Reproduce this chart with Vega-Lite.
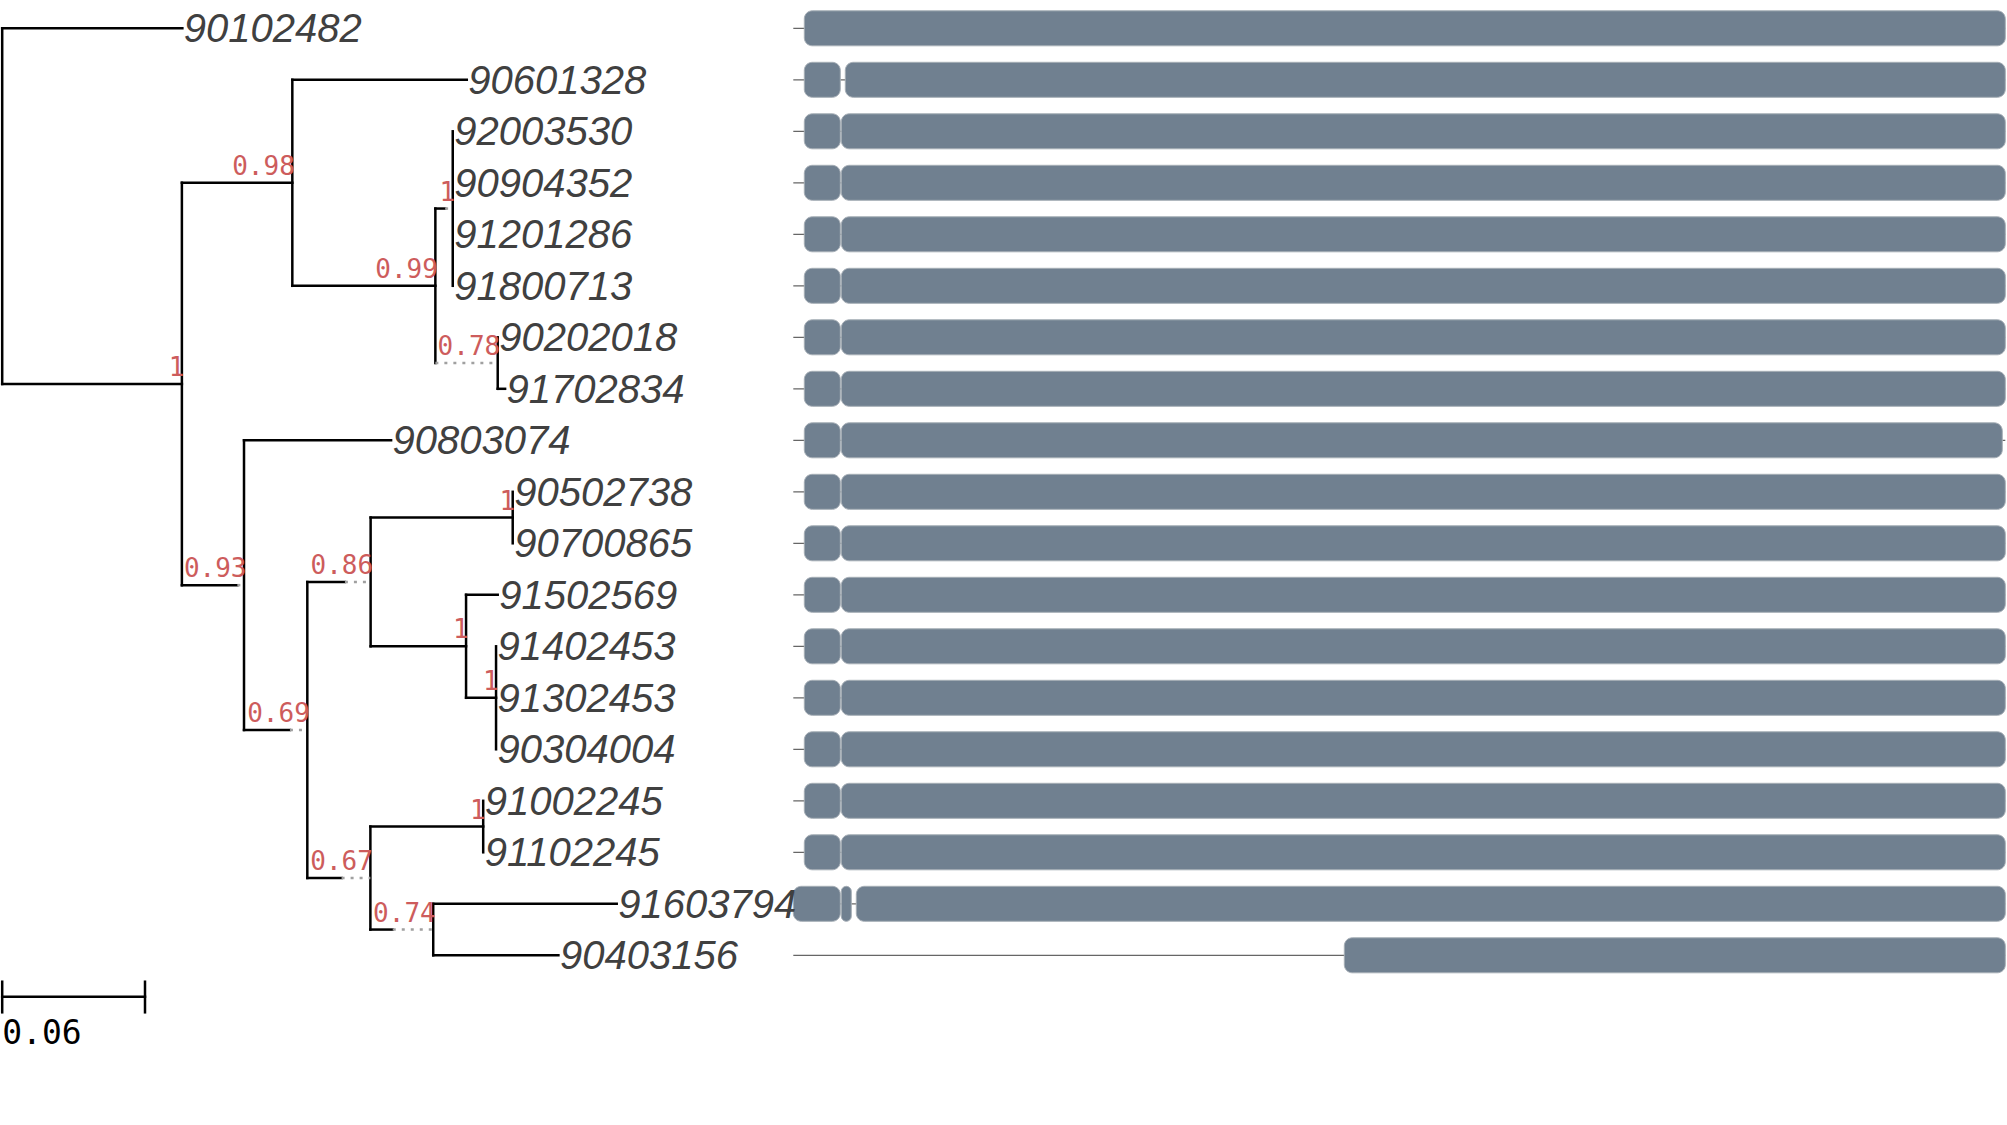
{
  "$schema": "https://vega.github.io/schema/vega-lite/v6.json",
  "width": 2007,
  "height": 1125,
  "autosize": {"type": "none"},
  "padding": 0,
  "background": "white",
  "config": {"view": {"stroke": null}, "scale": {"continuousPadding": 0}},
  "datasets": {
    "seg": [
      {"x": 0, "x2": 0, "y": 1, "y2": 7.90625, "k": "s"},
      {"x": 0, "x2": 0.0757, "y": 1, "y2": 1, "k": "s"},
      {"x": 0, "x2": 0.0755, "y": 7.90625, "y2": 7.90625, "k": "s"},
      {"x": 0.0755, "x2": 0.0755, "y": 4, "y2": 11.8125, "k": "s"},
      {"x": 0.0755, "x2": 0.1219, "y": 4, "y2": 4, "k": "s"},
      {"x": 0.1219, "x2": 0.1219, "y": 2, "y2": 6, "k": "s"},
      {"x": 0.1219, "x2": 0.1952, "y": 2, "y2": 2, "k": "s"},
      {"x": 0.1219, "x2": 0.182, "y": 6, "y2": 6, "k": "s"},
      {"x": 0.182, "x2": 0.182, "y": 4.5, "y2": 7.5, "k": "s"},
      {"x": 0.182, "x2": 0.1861, "y": 4.5, "y2": 4.5, "k": "s"},
      {"x": 0.1861, "x2": 0.1893, "y": 4.5, "y2": 4.5, "k": "d"},
      {"x": 0.1893, "x2": 0.1893, "y": 3, "y2": 6, "k": "s"},
      {"x": 0.182, "x2": 0.2082, "y": 7.5, "y2": 7.5, "k": "d"},
      {"x": 0.2082, "x2": 0.2082, "y": 7, "y2": 8, "k": "s"},
      {"x": 0.2082, "x2": 0.2113, "y": 8, "y2": 8, "k": "s"},
      {"x": 0.0755, "x2": 0.0988, "y": 11.8125, "y2": 11.8125, "k": "s"},
      {"x": 0.0988, "x2": 0.1016, "y": 11.8125, "y2": 11.8125, "k": "d"},
      {"x": 0.1016, "x2": 0.1016, "y": 9, "y2": 14.625, "k": "s"},
      {"x": 0.1016, "x2": 0.1634, "y": 9, "y2": 9, "k": "s"},
      {"x": 0.1016, "x2": 0.1209, "y": 14.625, "y2": 14.625, "k": "s"},
      {"x": 0.1209, "x2": 0.1282, "y": 14.625, "y2": 14.625, "k": "d"},
      {"x": 0.1282, "x2": 0.1282, "y": 11.75, "y2": 17.5, "k": "s"},
      {"x": 0.1282, "x2": 0.144, "y": 11.75, "y2": 11.75, "k": "s"},
      {"x": 0.144, "x2": 0.1548, "y": 11.75, "y2": 11.75, "k": "d"},
      {"x": 0.1548, "x2": 0.1548, "y": 10.5, "y2": 13, "k": "s"},
      {"x": 0.1548, "x2": 0.2145, "y": 10.5, "y2": 10.5, "k": "s"},
      {"x": 0.2145, "x2": 0.2145, "y": 10, "y2": 11, "k": "s"},
      {"x": 0.1548, "x2": 0.1949, "y": 13, "y2": 13, "k": "s"},
      {"x": 0.1949, "x2": 0.1949, "y": 12, "y2": 14, "k": "s"},
      {"x": 0.1949, "x2": 0.2082, "y": 12, "y2": 12, "k": "s"},
      {"x": 0.1949, "x2": 0.2075, "y": 14, "y2": 14, "k": "s"},
      {"x": 0.2075, "x2": 0.2075, "y": 13, "y2": 15, "k": "s"},
      {"x": 0.1282, "x2": 0.1426, "y": 17.5, "y2": 17.5, "k": "s"},
      {"x": 0.1426, "x2": 0.1547, "y": 17.5, "y2": 17.5, "k": "d"},
      {"x": 0.1547, "x2": 0.1547, "y": 16.5, "y2": 18.5, "k": "s"},
      {"x": 0.1547, "x2": 0.2021, "y": 16.5, "y2": 16.5, "k": "s"},
      {"x": 0.2021, "x2": 0.2021, "y": 16, "y2": 17, "k": "s"},
      {"x": 0.1547, "x2": 0.1641, "y": 18.5, "y2": 18.5, "k": "s"},
      {"x": 0.1641, "x2": 0.1811, "y": 18.5, "y2": 18.5, "k": "d"},
      {"x": 0.1811, "x2": 0.1811, "y": 18, "y2": 19, "k": "s"},
      {"x": 0.1811, "x2": 0.2582, "y": 18, "y2": 18, "k": "s"},
      {"x": 0.1811, "x2": 0.2337, "y": 19, "y2": 19, "k": "s"},
      {"x": 0, "x2": 0.06, "y": 19.804, "y2": 19.804, "k": "s"},
      {"x": 0, "x2": 0, "y": 19.513, "y2": 20.107, "k": "s"},
      {"x": 0.06, "x2": 0.06, "y": 19.513, "y2": 20.107, "k": "s"}
    ],
    "tips": [
      {"name": "90102482", "x": 0.0757, "y": 1},
      {"name": "90601328", "x": 0.1952, "y": 2},
      {"name": "92003530", "x": 0.1893, "y": 3},
      {"name": "90904352", "x": 0.1893, "y": 4},
      {"name": "91201286", "x": 0.1893, "y": 5},
      {"name": "91800713", "x": 0.1893, "y": 6},
      {"name": "90202018", "x": 0.2082, "y": 7},
      {"name": "91702834", "x": 0.2113, "y": 8},
      {"name": "90803074", "x": 0.1634, "y": 9},
      {"name": "90502738", "x": 0.2145, "y": 10},
      {"name": "90700865", "x": 0.2145, "y": 11},
      {"name": "91502569", "x": 0.2082, "y": 12},
      {"name": "91402453", "x": 0.2075, "y": 13},
      {"name": "91302453", "x": 0.2075, "y": 14},
      {"name": "90304004", "x": 0.2075, "y": 15},
      {"name": "91002245", "x": 0.2021, "y": 16},
      {"name": "91102245", "x": 0.2021, "y": 17},
      {"name": "91603794", "x": 0.2582, "y": 18},
      {"name": "90403156", "x": 0.2337, "y": 19}
    ],
    "nodes": [
      {"label": "1", "x": 0.0755, "y": 7.90625},
      {"label": "0.98", "x": 0.1219, "y": 4},
      {"label": "0.99", "x": 0.182, "y": 6},
      {"label": "1", "x": 0.1893, "y": 4.5},
      {"label": "0.78", "x": 0.2082, "y": 7.5},
      {"label": "0.93", "x": 0.1016, "y": 11.8125},
      {"label": "0.69", "x": 0.1282, "y": 14.625},
      {"label": "0.86", "x": 0.1548, "y": 11.75},
      {"label": "1", "x": 0.2145, "y": 10.5},
      {"label": "1", "x": 0.1949, "y": 13},
      {"label": "1", "x": 0.2075, "y": 14},
      {"label": "0.67", "x": 0.1547, "y": 17.5},
      {"label": "1", "x": 0.2021, "y": 16.5},
      {"label": "0.74", "x": 0.1811, "y": 18.5}
    ],
    "scale": [
      {"label": "0.06", "x": 0, "y": 20.725}
    ],
    "lines": [
      {"y": 1, "start": 0, "end": 1212},
      {"y": 2, "start": 0, "end": 1212},
      {"y": 3, "start": 0, "end": 1212},
      {"y": 4, "start": 0, "end": 1212},
      {"y": 5, "start": 0, "end": 1212},
      {"y": 6, "start": 0, "end": 1212},
      {"y": 7, "start": 0, "end": 1212},
      {"y": 8, "start": 0, "end": 1212},
      {"y": 9, "start": 0, "end": 1212},
      {"y": 10, "start": 0, "end": 1212},
      {"y": 11, "start": 0, "end": 1212},
      {"y": 12, "start": 0, "end": 1212},
      {"y": 13, "start": 0, "end": 1212},
      {"y": 14, "start": 0, "end": 1212},
      {"y": 15, "start": 0, "end": 1212},
      {"y": 16, "start": 0, "end": 1212},
      {"y": 17, "start": 0, "end": 1212},
      {"y": 18, "start": 0, "end": 1212},
      {"y": 19, "start": 0, "end": 1212}
    ],
    "aln": [
      {"y": 1, "start": 11, "end": 1212},
      {"y": 2, "start": 11, "end": 47},
      {"y": 2, "start": 52, "end": 1212},
      {"y": 3, "start": 11, "end": 47},
      {"y": 3, "start": 48, "end": 1212},
      {"y": 4, "start": 11, "end": 47},
      {"y": 4, "start": 48, "end": 1212},
      {"y": 5, "start": 11, "end": 47},
      {"y": 5, "start": 48, "end": 1212},
      {"y": 6, "start": 11, "end": 47},
      {"y": 6, "start": 48, "end": 1212},
      {"y": 7, "start": 11, "end": 47},
      {"y": 7, "start": 48, "end": 1212},
      {"y": 8, "start": 11, "end": 47},
      {"y": 8, "start": 48, "end": 1212},
      {"y": 9, "start": 11, "end": 47},
      {"y": 9, "start": 48, "end": 1209},
      {"y": 10, "start": 11, "end": 47},
      {"y": 10, "start": 48, "end": 1212},
      {"y": 11, "start": 11, "end": 47},
      {"y": 11, "start": 48, "end": 1212},
      {"y": 12, "start": 11, "end": 47},
      {"y": 12, "start": 48, "end": 1212},
      {"y": 13, "start": 11, "end": 47},
      {"y": 13, "start": 48, "end": 1212},
      {"y": 14, "start": 11, "end": 47},
      {"y": 14, "start": 48, "end": 1212},
      {"y": 15, "start": 11, "end": 47},
      {"y": 15, "start": 48, "end": 1212},
      {"y": 16, "start": 11, "end": 47},
      {"y": 16, "start": 48, "end": 1212},
      {"y": 17, "start": 11, "end": 47},
      {"y": 17, "start": 48, "end": 1212},
      {"y": 18, "start": 0, "end": 47},
      {"y": 18, "start": 48, "end": 58},
      {"y": 18, "start": 63, "end": 1212},
      {"y": 19, "start": 551, "end": 1212}
    ]
  },
  "resolve": {"scale": {"x": "independent"}},
  "layer": [
    {
      "data": {"name": "lines"},
      "mark": {"type": "rule", "color": "#666666", "strokeWidth": 1.2},
      "encoding": {
        "x": {"field": "start", "type": "quantitative", "axis": null,
              "scale": {"domain": [-793.3, 1213.7], "nice": false, "zero": false, "padding": 0}},
        "x2": {"field": "end"},
        "y": {"field": "y", "type": "quantitative", "axis": null,
              "scale": {"domain": [0.4505, 22.295], "reverse": true, "nice": false, "zero": false, "padding": 0}}
      }
    },
    {
      "data": {"name": "aln"},
      "mark": {"type": "bar", "orient": "horizontal", "height": 35, "cornerRadius": 8,
               "color": "#708090", "stroke": "#a6aeb6", "strokeWidth": 1},
      "encoding": {
        "x": {"field": "start", "type": "quantitative", "axis": null,
              "scale": {"domain": [-793.3, 1213.7], "nice": false, "zero": false, "padding": 0}},
        "x2": {"field": "end"},
        "y": {"field": "y", "type": "quantitative", "axis": null,
              "scale": {"domain": [0.4505, 22.295], "reverse": true, "nice": false, "zero": false, "padding": 0}}
      }
    },
    {
      "data": {"name": "seg"},
      "transform": [{"filter": "datum.k === 's'"}],
      "mark": {"type": "rule", "color": "black", "strokeWidth": 2.5, "strokeCap": "square"},
      "encoding": {
        "x": {"field": "x", "type": "quantitative", "axis": null,
              "scale": {"domain": [-0.000924, 0.84235], "nice": false, "zero": false}},
        "x2": {"field": "x2"},
        "y": {"field": "y", "type": "quantitative", "axis": null,
              "scale": {"domain": [0.4505, 22.295], "reverse": true, "nice": false, "zero": false, "padding": 0}},
        "y2": {"field": "y2"}
      }
    },
    {
      "data": {"name": "seg"},
      "transform": [{"filter": "datum.k === 'd'"}],
      "mark": {"type": "rule", "color": "#a0a0a0", "strokeWidth": 2.5, "strokeDash": [3, 6]},
      "encoding": {
        "x": {"field": "x", "type": "quantitative", "axis": null,
              "scale": {"domain": [-0.000924, 0.84235], "nice": false, "zero": false}},
        "x2": {"field": "x2"},
        "y": {"field": "y", "type": "quantitative", "axis": null,
              "scale": {"domain": [0.4505, 22.295], "reverse": true, "nice": false, "zero": false, "padding": 0}},
        "y2": {"field": "y2"}
      }
    },
    {
      "data": {"name": "tips"},
      "mark": {"type": "text", "align": "left", "baseline": "alphabetic", "dx": 1.5, "dy": 14,
               "font": "Liberation Sans", "fontStyle": "italic", "fontSize": 40, "color": "#404040"},
      "encoding": {
        "x": {"field": "x", "type": "quantitative", "axis": null,
              "scale": {"domain": [-0.000924, 0.84235], "nice": false, "zero": false}},
        "y": {"field": "y", "type": "quantitative", "axis": null,
              "scale": {"domain": [0.4505, 22.295], "reverse": true, "nice": false, "zero": false, "padding": 0}},
        "text": {"field": "name"}
      }
    },
    {
      "data": {"name": "nodes"},
      "mark": {"type": "text", "align": "right", "baseline": "alphabetic", "dx": 2.5, "dy": -8,
               "font": "DejaVu Sans Mono", "fontSize": 26, "color": "#cd5c5c"},
      "encoding": {
        "x": {"field": "x", "type": "quantitative", "axis": null,
              "scale": {"domain": [-0.000924, 0.84235], "nice": false, "zero": false}},
        "y": {"field": "y", "type": "quantitative", "axis": null,
              "scale": {"domain": [0.4505, 22.295], "reverse": true, "nice": false, "zero": false, "padding": 0}},
        "text": {"field": "label"}
      }
    },
    {
      "data": {"name": "scale"},
      "mark": {"type": "text", "align": "left", "baseline": "alphabetic",
               "font": "DejaVu Sans Mono", "fontSize": 33, "color": "black"},
      "encoding": {
        "x": {"field": "x", "type": "quantitative", "axis": null,
              "scale": {"domain": [-0.000924, 0.84235], "nice": false, "zero": false}},
        "y": {"field": "y", "type": "quantitative", "axis": null,
              "scale": {"domain": [0.4505, 22.295], "reverse": true, "nice": false, "zero": false, "padding": 0}},
        "text": {"field": "label"}
      }
    }
  ]
}
